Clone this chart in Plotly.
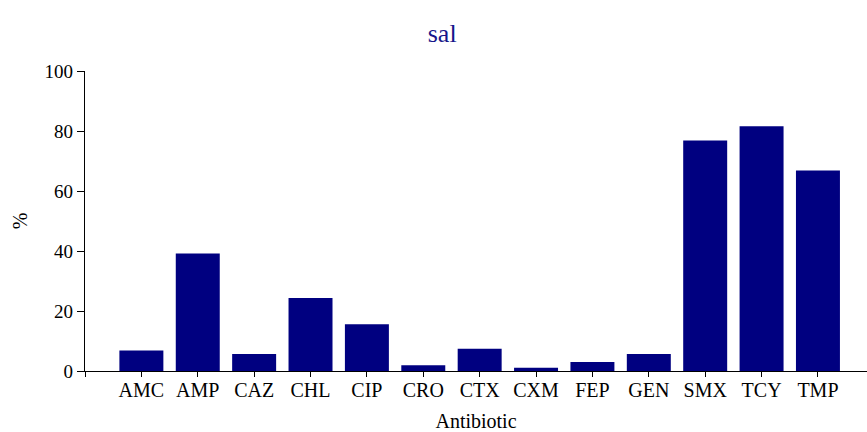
import plotly.graph_objects as go

# Resistance rates (%) per antibiotic
antibiotics = ["AMC", "AMP", "CAZ", "CHL", "CIP", "CRO", "CTX",
               "CXM", "FEP", "GEN", "SMX", "TCY", "TMP"]
percent = [6.8, 39.2, 5.7, 24.3, 15.6, 1.9, 7.4,
           1.1, 3.0, 5.7, 76.8, 81.6, 66.8]
y_ticks = [0, 20, 40, 60, 80, 100]

FONT = "Liberation Serif, Times New Roman, serif"
BAR = "#000080"

fig = go.Figure(
    go.Bar(
        x=list(range(len(antibiotics))),
        y=percent,
        marker=dict(color=BAR, line=dict(width=0)),
        width=0.78,
        hoverinfo="x+y",
    )
)

fig.update_layout(
    width=867,
    height=432,
    margin=dict(l=85, r=0, t=71, b=61),
    paper_bgcolor="white",
    plot_bgcolor="white",
    showlegend=False,
    font=dict(family=FONT, size=20, color="black"),
    title=dict(
        text="sal",
        x=0.51,
        xanchor="center",
        y=0.925,
        yanchor="middle",
        font=dict(family=FONT, size=26, color="#16168a"),
    ),
)

fig.update_xaxes(
    range=[-1, len(antibiotics) - 0.13],
    tickmode="array",
    tickvals=[-1] + list(range(len(antibiotics))),
    ticktext=[""] + antibiotics,
    ticks="outside",
    ticklen=5,
    tickwidth=1.3,
    tickcolor="black",
    showline=True,
    linecolor="black",
    linewidth=1.3,
    showgrid=False,
    zeroline=False,
    ticklabelstandoff=-4,
    title=dict(text="Antibiotic", standoff=15, font=dict(family=FONT, size=20)),
    tickfont=dict(family=FONT, size=20),
)

fig.update_yaxes(
    range=[0, 100],
    tickmode="array",
    tickvals=y_ticks,
    ticks="outside",
    ticklen=7,
    tickwidth=1.3,
    tickcolor="black",
    showline=True,
    linecolor="black",
    linewidth=1.3,
    showgrid=False,
    zeroline=False,
    title=dict(text="%", standoff=11, font=dict(family=FONT, size=20)),
    tickfont=dict(family=FONT, size=19),
)

fig.write_html("out.html")
